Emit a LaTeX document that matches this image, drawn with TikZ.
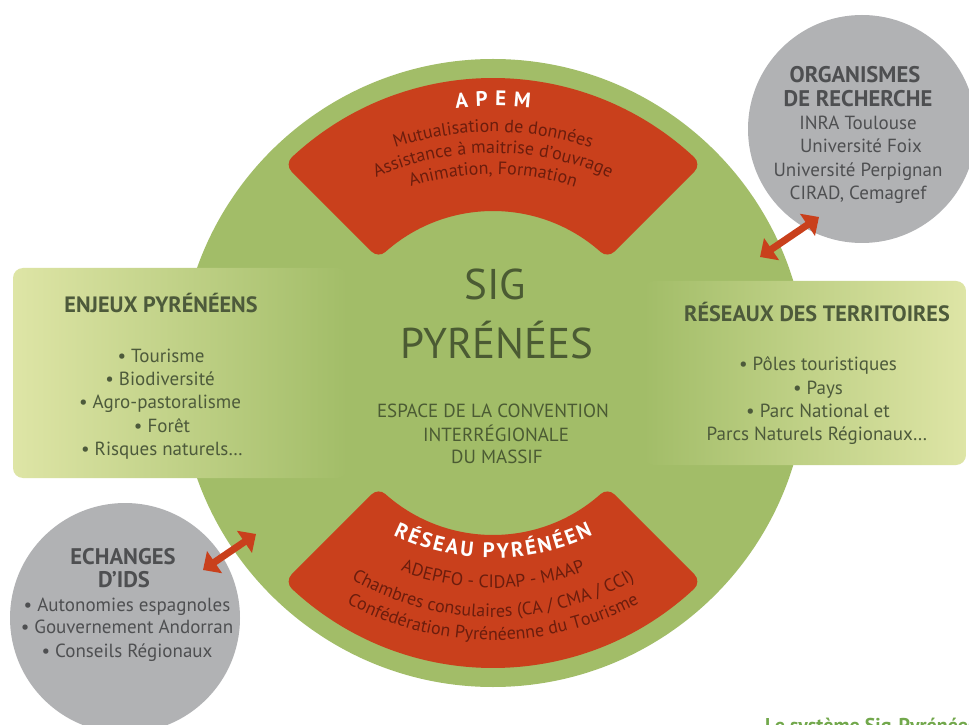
\documentclass[tikz,border=0pt]{standalone}
\usepackage{fontspec}
\setmainfont{PT Sans}
\usetikzlibrary{decorations.text,arrows.meta,calc}
\definecolor{cgreen}{HTML}{A2BD68}
\definecolor{cred}{HTML}{C9401C}
\definecolor{credtext}{HTML}{6B1D0D}
\definecolor{cgray}{HTML}{B1B2B4}
\definecolor{cgraytext}{HTML}{4E4F51}
\definecolor{cboxtext}{HTML}{4D5A3B}
\definecolor{ccentertext}{HTML}{4B5B33}
\definecolor{clight}{HTML}{DEE5A6}
\definecolor{ccaption}{HTML}{72A84C}
\tikzset{
  x=1pt, y=1pt,
  band/.style={fill=cred, draw=cred, line width=20pt, line join=round},
  boxtitle/.style={anchor=base, inner sep=0pt, text=cboxtext, font=\fontsize{22.2}{26}\selectfont\bfseries},
  boxline/.style={anchor=base, inner sep=0pt, text=cboxtext, font=\fontsize{19}{23}\selectfont},
  graytitle/.style={anchor=base, inner sep=0pt, text=cgraytext, font=\fontsize{22.6}{26}\selectfont\bfseries},
  grayline/.style={anchor=base, inner sep=0pt, text=cgraytext, font=\fontsize{19}{23}\selectfont},
  centerline/.style={anchor=base, inner sep=0pt, text=ccentertext, font=\fontsize{19}{22}\selectfont},
  bigline/.style={anchor=base, inner sep=0pt, text=ccentertext, font=\fontsize{43}{48}\selectfont},
  twoway/.style={draw=cred, line width=7pt, {Triangle[length=14pt,width=26pt]}-{Triangle[length=14pt,width=26pt]}},
  bandtext/.style={decorate, decoration={text along path, text align=center,
    text={|\fontsize{18}{20}\selectfont\color{credtext}|#1}}},
  bandtitle/.style={decorate, decoration={text along path, text align={fit to path},
    text={|\fontsize{21}{24}\selectfont\bfseries\color{white}|#1}}},
}
\begin{document}
\begin{tikzpicture}
\useasboundingbox (0,0) rectangle (969,724);
\fill[white] (0,0) rectangle (969,724);
\coordinate (C) at (493,351);
\coordinate (CT) at (493,284);
\coordinate (CB) at (493,394);
% main circle
\node[circle, fill=cgreen, minimum size=628pt, inner sep=0pt] (sig) at (C) {};
% red bands
\path[band] ($(C)+(47.01:285pt)$) arc[start angle=47.01, end angle=132.99, radius=285pt]
  -- ($(C)+(131.67:172pt)$) arc[start angle=131.67, end angle=48.33, radius=172pt] -- cycle;
\path[band] ($(C)+(227.01:285pt)$) arc[start angle=227.01, end angle=312.99, radius=285pt]
  -- ($(C)+(311.67:172pt)$) arc[start angle=311.67, end angle=228.33, radius=172pt] -- cycle;
% side boxes
\node[rounded corners=10pt, left color=clight, right color=cgreen, minimum width=334pt, minimum height=210pt, inner sep=0pt] (enjeux) at (180,351) {};
\node[rounded corners=10pt, left color=cgreen, right color=clight, minimum width=322pt, minimum height=184pt, inner sep=0pt] (reseaux) at (805,351) {};
% gray circles
\node[circle, fill=cgray, minimum size=228pt, inner sep=0pt] (orga) at (862,595) {};
\node[circle, fill=cgray, minimum size=230pt, inner sep=0pt] (echg) at (125,106) {};
% arrows
\coordinate (o1) at (819,507);
\coordinate (o2) at (760,467);
\coordinate (e1) at (203,154);
\coordinate (e2) at (256,190);
\draw[twoway] (o1) -- (o2);
\draw[twoway] (e1) -- (e2);
% band texts top
\path[bandtitle={APEM}] ($(CT)+(96.4:334pt)$) arc[start angle=96.4, end angle=83.6, radius=334pt];
\path[bandtext={Mutualisation de données}] ($(CT)+(130:308pt)$) arc[start angle=130, end angle=50, radius=308pt];
\path[bandtext={Assistance à maitrise d'ouvrage}] ($(CT)+(130:287pt)$) arc[start angle=130, end angle=50, radius=287pt];
\path[bandtext={Animation, Formation}] ($(CT)+(130:266pt)$) arc[start angle=130, end angle=50, radius=266pt];
% band texts bottom
\path[bandtitle={RÉSEAU PYRÉNÉEN}] ($(CB)+(244:228pt)$) arc[start angle=244, end angle=296, radius=228pt];
\path[bandtext={ADEPFO - CIDAP - MAAP}] ($(CB)+(220:258pt)$) arc[start angle=220, end angle=320, radius=258pt];
\path[bandtext={Chambres consulaires (CA / CMA / CCI)}] ($(CB)+(220:287pt)$) arc[start angle=220, end angle=320, radius=287pt];
\path[bandtext={Confédération Pyrénéenne du Tourisme}] ($(CB)+(220:310pt)$) arc[start angle=220, end angle=320, radius=310pt];
% centre
\node[bigline] (t1) at (495,424) {SIG};
\node[bigline] (t2) at (497,366) {PYRÉNÉES};
\node[centerline] (t3) at (493,307) {ESPACE DE LA CONVENTION};
\node[centerline] (t4) at (496,283) {INTERRÉGIONALE};
\node[centerline] (t5) at (497,261) {DU MASSIF};
% left box
\node[boxtitle] (en0) at (161,411) {ENJEUX PYRÉNÉENS};
\node[boxline] (en1) at (161,362) {• Tourisme};
\node[boxline] (en2) at (160,339) {• Biodiversité};
\node[boxline] (en3) at (160,316) {• Agro-pastoralisme};
\node[boxline] (en4) at (162,292) {• Forêt};
\node[boxline] (en5) at (162,269) {• Risques naturels…};
% right box
\node[boxtitle] (re0) at (817,402) {RÉSEAUX DES TERRITOIRES};
\node[boxline] (re1) at (818,354) {• Pôles touristiques};
\node[boxline] (re2) at (818,330) {• Pays};
\node[boxline] (re3) at (818,307) {• Parc National et};
\node[boxline] (re4) at (817,284) {Parcs Naturels Régionaux…};
% organismes
\node[graytitle] (or0) at (855,641) {ORGANISMES};
\node[graytitle] (or1) at (858,617) {DE RECHERCHE};
\node[grayline] (or2) at (858,594) {INRA Toulouse};
\node[grayline] (or3) at (861,571) {Université Foix};
\node[grayline] (or4) at (858,547) {Université Perpignan};
\node[grayline] (or5) at (858,524) {CIRAD, Cemagref};
% echanges
\node[graytitle] (ec0) at (123,160) {ECHANGES};
\node[graytitle] (ec1) at (124,137) {D'IDS};
\node[grayline] (ec2) at (127,113) {• Autonomies espagnoles};
\node[grayline] (ec3) at (127,91) {• Gouvernement Andorran};
\node[grayline] (ec4) at (127,67) {• Conseils Régionaux};
% caption
\node[anchor=base west, inner sep=0pt, text=ccaption, font=\fontsize{20}{22}\selectfont\bfseries] (cap) at (765,-8) {Le système Sig-Pyrénées};
\end{tikzpicture}
\end{document}
